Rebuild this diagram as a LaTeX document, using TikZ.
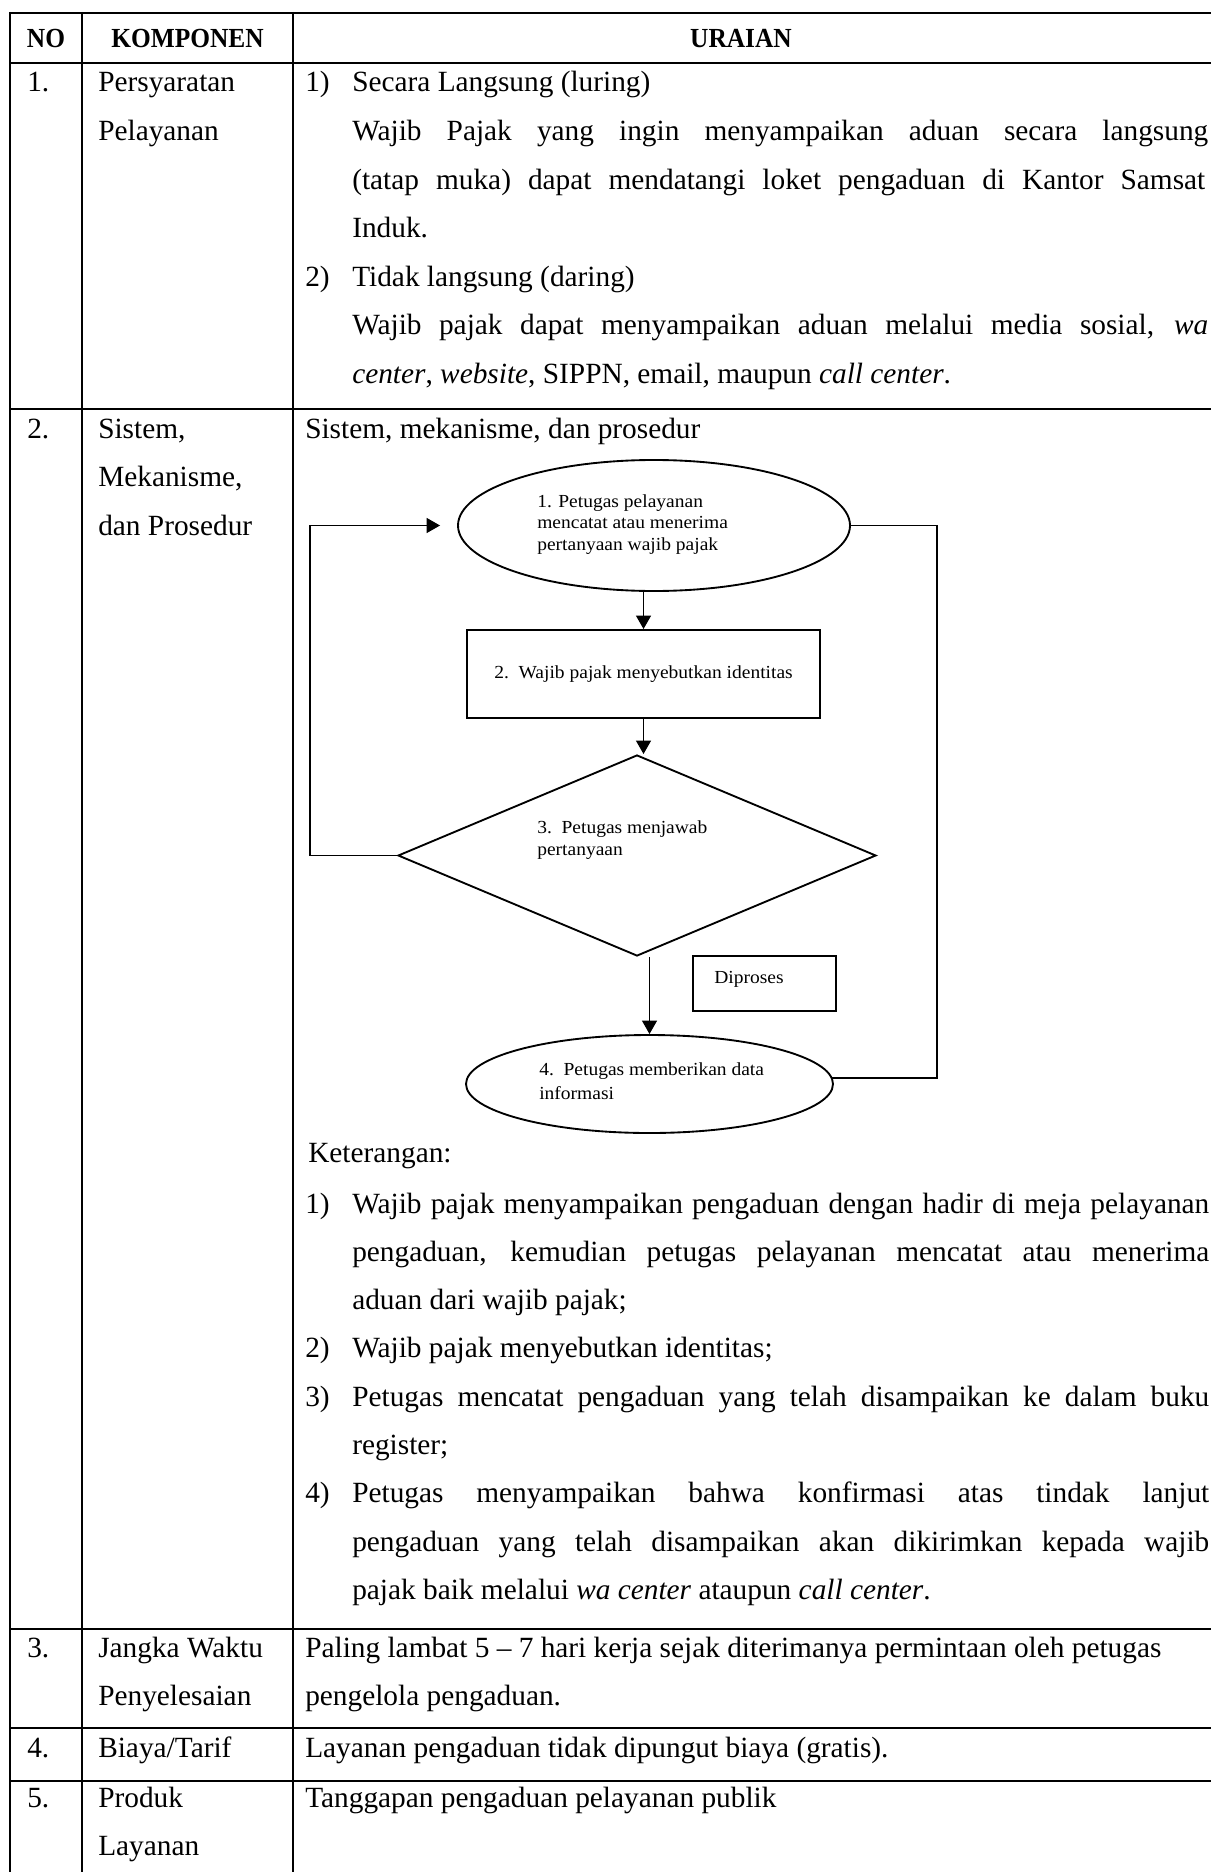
\documentclass[tikz,border=0pt]{standalone}
\usepackage{fontspec}
\setmainfont{Liberation Serif}
\newfontfamily\flowfont{Liberation Serif}[FakeStretch=1.06]
\newfontfamily\headfont{Liberation Serif}[FakeStretch=0.92]
\usetikzlibrary{shapes.geometric,arrows.meta}

% a justified line of fixed width
\newcommand\jline[2]{\makebox[#1][s]{#2}}

\begin{document}
\begin{tikzpicture}[x=0.75pt,y=-0.75pt,
  grid/.style={line width=2pt},
  cell/.style={anchor=base west, inner sep=0pt, font=\fontsize{22}{26}\selectfont},
  head/.style={anchor=base, inner sep=0pt, font=\headfont\bfseries\fontsize{20.7}{24}\selectfont},
  flowbox/.style={draw, line width=1.4pt, inner sep=0pt},
  ftext/.style={anchor=base west, inner sep=0pt, font=\flowfont\fontsize{13.8}{16}\selectfont},
  link/.style={line width=1.4pt},
  arr/.style={link, -{Triangle[length=10pt,width=11pt]}}]

\useasboundingbox (0,0) rectangle (1211,1872);
\fill[white] (0,0) rectangle (1211,1872);

% ---------- table rules ----------
\foreach \yy in {13,63,409,1629,1728,1781}
  \draw[grid] (9,\yy) -- (1211,\yy);
\foreach \xx in {10,82,293}
  \draw[grid] (\xx,12) -- (\xx,1872);

% ---------- header ----------
\node[head] (hno)   at (46,48)  {NO};
\node[head] (hkomp) at (187.5,48) {KOMPONEN};
\node[head] (hur)   at (741,48) {URAIAN};

% ---------- row 1 ----------
\node[cell] (n1) at (27,92) {1.};
\node[cell] (k1a) at (98,92) {Persyaratan};
\node[cell] (k1b) at (98,140.6) {Pelayanan};
\node[cell] (u1m) at (305,92) {1)};
\node[cell] (u1a) at (352,92) {Secara Langsung (luring)};
\node[cell] (u1b) at (352,140.6) {\jline{642pt}{Wajib Pajak yang ingin menyampaikan aduan secara langsung}};
\node[cell] (u1c) at (352,189.2) {\jline{639.75pt}{(tatap muka) dapat mendatangi loket pengaduan di Kantor Samsat}};
\node[cell] (u1d) at (352,237.8) {Induk.};
\node[cell] (u2m) at (305,286.4) {2)};
\node[cell] (u2a) at (352,286.4) {Tidak langsung (daring)};
\node[cell] (u2b) at (352,335) {\jline{642pt}{Wajib pajak dapat menyampaikan aduan melalui media sosial, \textit{wa}}};
\node[cell] (u2c) at (352,383.6) {\textit{center}, \textit{website}, SIPPN, email, maupun \textit{call center}.};

% ---------- row 2 ----------
\node[cell] (n2) at (27,438) {2.};
\node[cell] (k2a) at (98,438) {Sistem,};
\node[cell] (k2b) at (98,486.6) {Mekanisme,};
\node[cell] (k2c) at (98,535.2) {dan Prosedur};
\node[cell] (s2) at (305,438) {Sistem, mekanisme, dan prosedur};

% flowchart shapes
\node[flowbox, ellipse, minimum width=294pt, minimum height=98.25pt] (e1) at (654,525.5) {};
\node[flowbox, rectangle, minimum width=264.75pt, minimum height=66pt] (r2) at (643.5,674) {};
\node[flowbox, diamond, minimum width=358.5pt, minimum height=150.75pt] (d3) at (637,855.5) {};
\node[flowbox, rectangle, minimum width=107.25pt, minimum height=41.25pt] (dp) at (764.5,983.5) {};
\node[flowbox, ellipse, minimum width=275.25pt, minimum height=73.5pt] (e4) at (649.5,1084) {};

% flowchart labels
\node[ftext] (t1a) at (537,507) {1. Petugas pelayanan};
\node[ftext] (t1b) at (537,528.5) {mencatat atau menerima};
\node[ftext] (t1c) at (537,550) {pertanyaan wajib pajak};
\node[ftext, anchor=base] (t2) at (643.5,678) {2.\ \ Wajib pajak menyebutkan identitas};
\node[ftext] (t3a) at (537,833) {3.\ \ Petugas menjawab};
\node[ftext] (t3b) at (537,855) {pertanyaan};
\node[ftext] (tdp) at (714,983) {Diproses};
\node[ftext] (t4a) at (539,1075) {4.\ \ Petugas memberikan data};
\node[ftext] (t4b) at (539,1099) {informasi};

% flowchart connectors
\coordinate (lp) at (310,0);
\coordinate (rp) at (937,0);
\draw[arr] (r2.north |- e1.south) -- (r2.north);
\draw[arr] (r2.south) -- (r2.south |- d3.north);
\draw[arr] (e4.north |- d3.south) -- (e4.north);
\draw[arr, shorten >=12.75pt] (d3.west) -- (d3.west -| lp) |- (e1.west);
\draw[link] (e1.east) -- (e1.east -| rp) -- (rp |- e4.2) -- (e4.2);

% legend
\node[cell] (ket) at (308,1162) {Keterangan:};
\node[cell] (k1m) at (305,1213) {1)};
\node[cell] (k1l1) at (352,1213) {\jline{642.75pt}{Wajib pajak menyampaikan pengaduan dengan hadir di meja pelayanan}};
\node[cell] (k1l2) at (352,1261.3) {\jline{642.75pt}{pengaduan, kemudian petugas pelayanan mencatat atau menerima}};
\node[cell] (k1l3) at (352,1309.6) {aduan dari wajib pajak;};
\node[cell] (k2m) at (305,1357.9) {2)};
\node[cell] (k2l1) at (352,1357.9) {Wajib pajak menyebutkan identitas;};
\node[cell] (k3m) at (305,1406.2) {3)};
\node[cell] (k3l1) at (352,1406.2) {\jline{642.75pt}{Petugas mencatat pengaduan yang telah disampaikan ke dalam buku}};
\node[cell] (k3l2) at (352,1454.5) {register;};
\node[cell] (k4m) at (305,1502.8) {4)};
\node[cell] (k4l1) at (352,1502.8) {\jline{642.75pt}{Petugas menyampaikan bahwa konfirmasi atas tindak lanjut}};
\node[cell] (k4l2) at (352,1551.1) {\jline{642.75pt}{pengaduan yang telah disampaikan akan dikirimkan kepada wajib}};
\node[cell] (k4l3) at (352,1599.4) {pajak baik melalui \textit{wa center} ataupun \textit{call center}.};

% ---------- row 3 ----------
\node[cell] (n3) at (27,1657) {3.};
\node[cell] (k3a) at (98,1657) {Jangka Waktu};
\node[cell] (k3b) at (98,1705.6) {Penyelesaian};
\node[cell] (u3a) at (305,1657) {Paling lambat 5 – 7 hari kerja sejak diterimanya permintaan oleh petugas};
\node[cell] (u3b) at (305,1705.6) {pengelola pengaduan.};

% ---------- row 4 ----------
\node[cell] (n4) at (27,1757) {4.};
\node[cell] (k4a) at (98,1757) {Biaya/Tarif};
\node[cell] (u4a) at (305,1757) {Layanan pengaduan tidak dipungut biaya (gratis).};

% ---------- row 5 ----------
\node[cell] (n5) at (27,1807) {5.};
\node[cell] (k5a) at (98,1807) {Produk};
\node[cell] (k5b) at (98,1855.6) {Layanan};
\node[cell] (u5a) at (305,1807) {Tanggapan pengaduan pelayanan publik};

\end{tikzpicture}
\end{document}
